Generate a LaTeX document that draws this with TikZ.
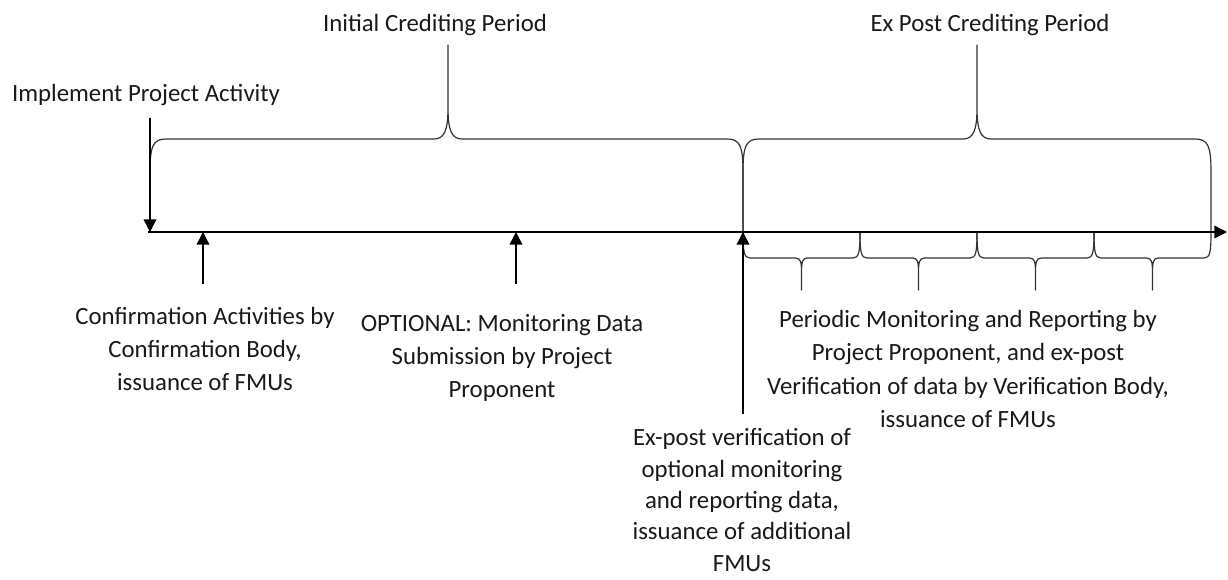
\documentclass[tikz,border=0pt]{standalone}
\usepackage{fontspec}
\setmainfont{Carlito}
\usetikzlibrary{arrows.meta}
\begin{document}
\begin{tikzpicture}[x=0.75pt,y=-0.75pt, line join=round,
  arr/.style={line width=1.1pt,-{Triangle[length=9.5pt,width=9.5pt]}},
  brace/.style={line width=0.9pt, draw=black!80},
  lbl/.style={font=\fontsize{18.6}{25}\selectfont, align=center, inner sep=0pt, text=black!90}]
\useasboundingbox (0,0) rectangle (1228,579);

% labels
\node[lbl] (icp) at (435,25) {Initial Crediting Period};
\node[lbl] (epcp) at (990,25) {Ex Post Crediting Period};
\node[lbl] (ipa) at (146,95) {Implement Project Activity};
\node[lbl] (conf) at (205,349) {Confirmation Activities by\\Confirmation Body,\\issuance of FMUs};
\node[lbl] (opt) at (502,358) {OPTIONAL: Monitoring Data\\Submission by Project\\Proponent};
\node[lbl] (per) at (968,369) {Periodic Monitoring and Reporting by\\Project Proponent, and ex-post\\Verification of data by Verification Body,\\issuance of FMUs};
\node[lbl, font=\fontsize{18.6}{23.6}\selectfont] (expv) at (742,500) {Ex-post verification of\\optional monitoring\\and reporting data,\\issuance of additional\\FMUs};

% coordinates
\coordinate (ax0) at (148,232);
\coordinate (axE) at (1227,232);
\coordinate (p0) at (150,232);
\coordinate (p1) at (203,232);
\coordinate (p2) at (516,232);
\coordinate (p3) at (743,232);
\coordinate (s0) at (150,118);
\coordinate (s1) at (203,284);
\coordinate (s2) at (516,284);
\coordinate (s3) at (743,414);

% big braces
\draw[brace] (p0) -- (150,172) .. controls (150,146) and (153,139) .. (166,139)
  -- (434,139) .. controls (444,139) and (448,131) .. (448,108) -- (448,45)
  -- (448,108) .. controls (448,131) and (452,139) .. (462,139)
  -- (727,139) .. controls (740,139) and (743,146) .. (743,172) -- (p3);
\draw[brace] (p3) -- (743,172) .. controls (743,146) and (746,139) .. (759,139)
  -- (963,139) .. controls (973,139) and (977,131) .. (977,108) -- (977,45)
  -- (977,108) .. controls (977,131) and (981,139) .. (991,139)
  -- (1195,139) .. controls (1208,139) and (1211,146) .. (1211,172) -- (1211,232);

% small braces
\foreach \a in {743,860,977,1094}{
  \draw[brace] (\a,232) .. controls (\a,252) and (\a+1,258) .. (\a+7,258)
    -- (\a+52.5,258) .. controls (\a+57.5,258) and (\a+58.5,262) .. (\a+58.5,272) -- (\a+58.5,290)
    -- (\a+58.5,272) .. controls (\a+58.5,262) and (\a+59.5,258) .. (\a+64.5,258)
    -- (\a+110,258) .. controls (\a+116,258) and (\a+117,252) .. (\a+117,232);
}

% axis and arrows
\draw[arr] (ax0) -- (axE);
\draw[arr] (s0) -- (p0);
\draw[arr] (s1) -- (p1);
\draw[arr] (s2) -- (p2);
\draw[arr] (s3) -- (p3);
\end{tikzpicture}
\end{document}
